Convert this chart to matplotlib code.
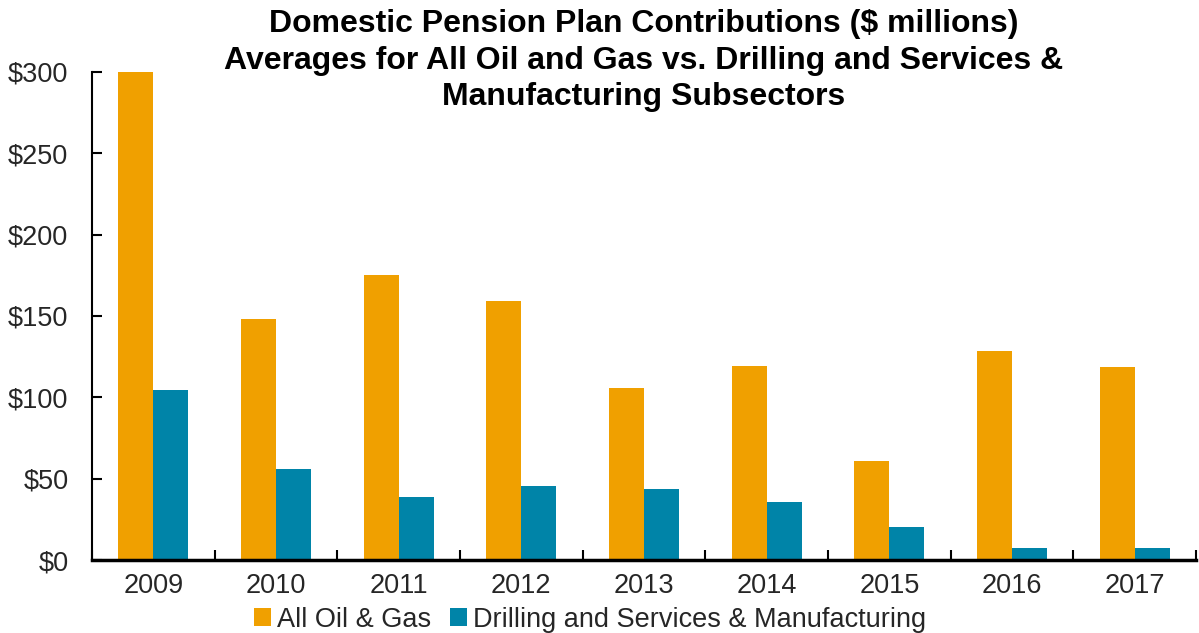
import matplotlib
matplotlib.use("Agg")
import matplotlib.pyplot as plt
import numpy as np

years = ["2009", "2010", "2011", "2012", "2013", "2014", "2015", "2016", "2017"]
all_oil_gas = [300, 148, 175, 159, 106, 119, 61, 128.5, 118.5]
drilling_mfg = [104.5, 56, 38.5, 45.5, 43.5, 35.5, 20, 7.2, 7.5]
series_names = ["All Oil & Gas", "Drilling and Services & Manufacturing"]
yticks = [0, 50, 100, 150, 200, 250, 300]
title = ("Domestic Pension Plan Contributions ($ millions)\n"
         "Averages for All Oil and Gas vs. Drilling and Services &\n"
         "Manufacturing Subsectors")

plt.rcParams['font.family'] = ['Liberation Sans', 'DejaVu Sans']

fig = plt.figure(figsize=(11.99, 6.33), dpi=100)
ax = fig.add_axes([0.0767, 0.1153, 0.9208, 0.7710])

x = np.arange(len(years))
w = 0.285
ax.bar(x - w/2, all_oil_gas, width=w, color="#F0A000", label=series_names[0])
ax.bar(x + w/2, drilling_mfg, width=w, color="#0084A8", label=series_names[1])

ax.set_xlim(-0.5, len(years) - 0.5)
ax.set_ylim(0, 300)
ax.set_yticks(yticks)
ax.set_yticklabels([f"${v}" for v in yticks], fontsize=19.5, color="#262626")
ax.set_xticks(x)
ax.set_xticklabels(years, fontsize=19.5, color="#262626")
ax.tick_params(axis='x', length=0, pad=9)
ax.tick_params(axis='y', direction='in', length=7, width=1.5, pad=17)
ax.set_xticks(np.arange(len(years) + 1) - 0.5, minor=True)
ax.tick_params(axis='x', which='minor', direction='in', length=7, width=1.5)

for s in ["top", "right"]:
    ax.spines[s].set_visible(False)
ax.spines["left"].set_linewidth(1.5)
ax.spines["bottom"].set_linewidth(2.5)

ax_center = 0.0767 + 0.9208 / 2
fig.text(ax_center, 0.985, title, fontsize=23, fontweight='bold', ha='center', va='top',
         linespacing=1.27)

fig.legend(loc='lower center', bbox_to_anchor=(0.492, -0.038), ncol=2, frameon=False,
           fontsize=19.5, handlelength=0.65, handleheight=0.65, handletextpad=0.2,
           columnspacing=0.7, labelcolor="#262626")

fig.savefig("out.png", dpi=100)
